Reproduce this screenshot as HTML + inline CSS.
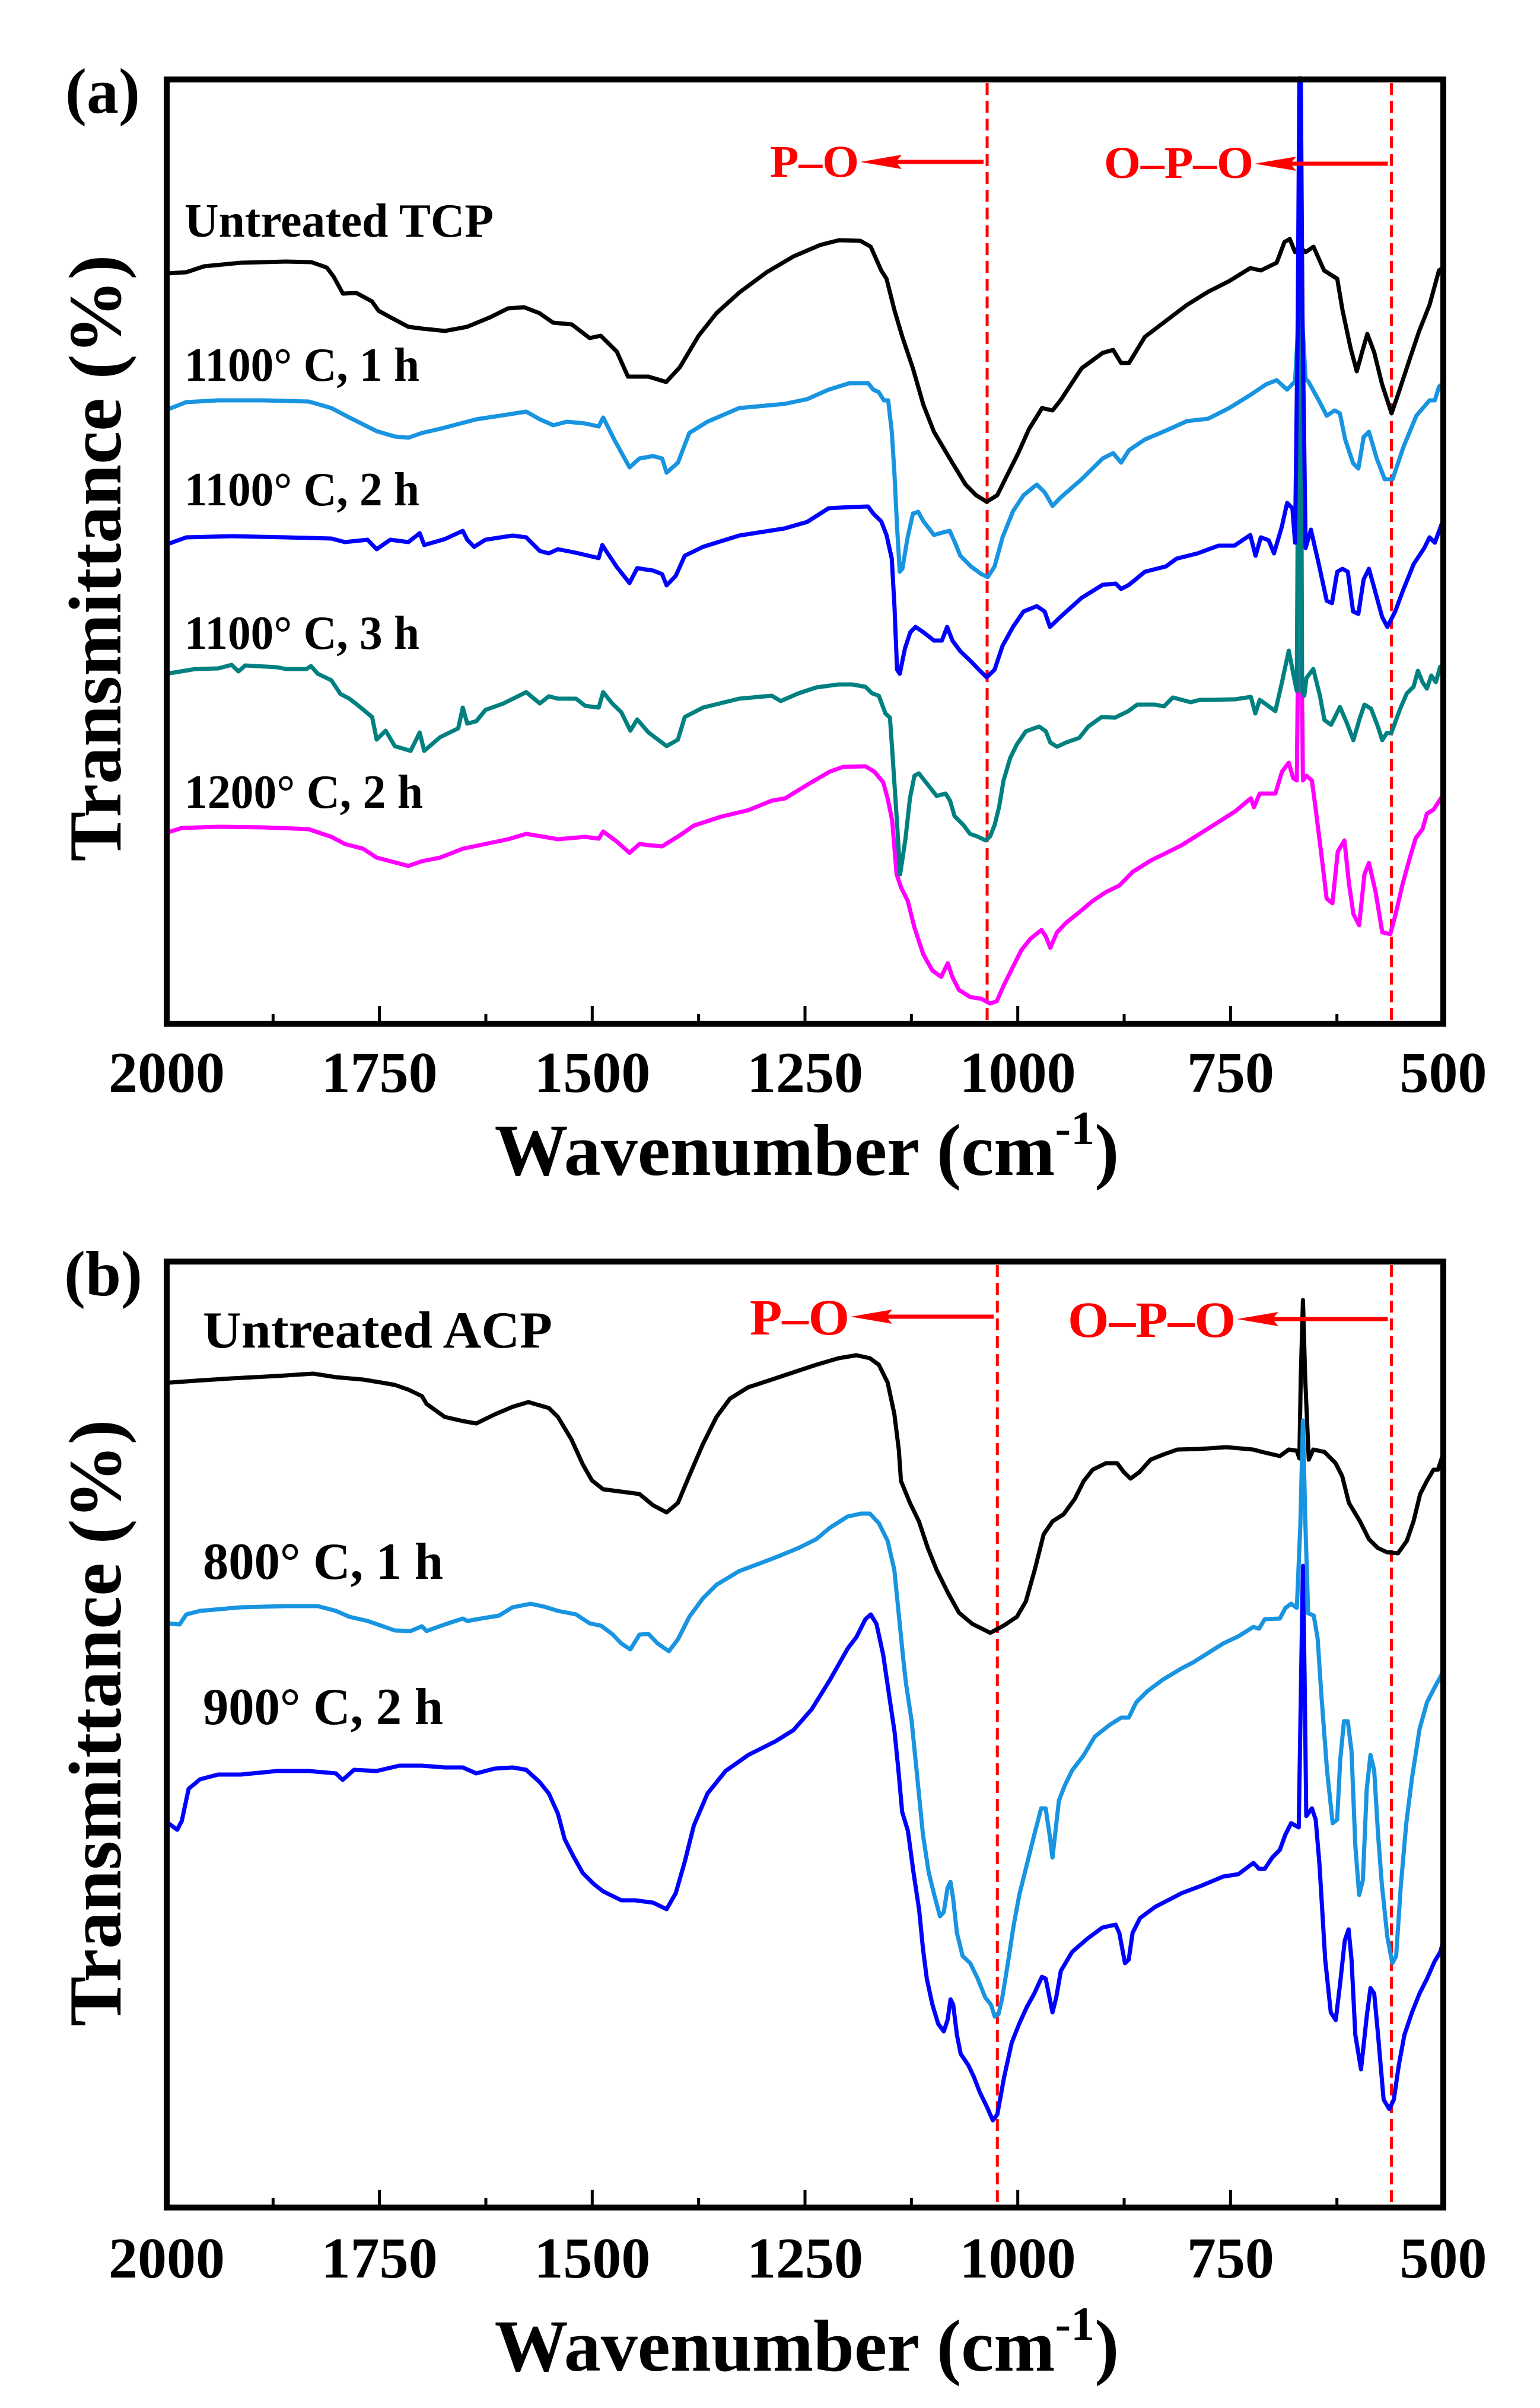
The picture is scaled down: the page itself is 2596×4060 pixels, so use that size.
<!DOCTYPE html>
<html><head><meta charset="utf-8"><style>
html,body{margin:0;padding:0;background:#fff;}
svg{display:block;}
text{font-family:"Liberation Serif","Times New Roman",serif;font-weight:bold;}
</style></head><body>
<svg id="fig" xmlns="http://www.w3.org/2000/svg" width="2596" height="4060" viewBox="0 0 2596 4060">
<rect x="0" y="0" width="2596" height="4060" fill="#fff"/>
<g id="panelA"></g>
<g id="panelB"></g>
<text x="110" y="190" font-size="108">(a)</text>
<text x="108" y="2184" font-size="108">(b)</text>
<text transform="translate(203,941) rotate(-90)" text-anchor="middle" font-size="126">Transmittance (%)</text>
<text transform="translate(203,2905) rotate(-90)" text-anchor="middle" font-size="126">Transmittance (%)</text>
<text x="1360" y="1981" text-anchor="middle" font-size="124">Wavenumber (cm<tspan dy="-52" font-size="80">-1</tspan><tspan dy="52">)</tspan></text>
<text x="1360" y="3997" text-anchor="middle" font-size="124">Wavenumber (cm<tspan dy="-52" font-size="80">-1</tspan><tspan dy="52">)</tspan></text>
<text x="311" y="399" font-size="80" textLength="521" lengthAdjust="spacingAndGlyphs">Untreated TCP</text>
<text x="311" y="642" font-size="80" textLength="396" lengthAdjust="spacingAndGlyphs">1100° C, 1 h</text>
<text x="311" y="852" font-size="80" textLength="396" lengthAdjust="spacingAndGlyphs">1100° C, 2 h</text>
<text x="311" y="1094" font-size="80" textLength="396" lengthAdjust="spacingAndGlyphs">1100° C, 3 h</text>
<text x="311" y="1362" font-size="80" textLength="402" lengthAdjust="spacingAndGlyphs">1200° C, 2 h</text>
<text x="342" y="2272" font-size="88" textLength="589" lengthAdjust="spacingAndGlyphs">Untreated ACP</text>
<text x="342" y="2662" font-size="88" textLength="405" lengthAdjust="spacingAndGlyphs">800° C, 1 h</text>
<text x="342" y="2907" font-size="88" textLength="405" lengthAdjust="spacingAndGlyphs">900° C, 2 h</text>
<text x="1298" y="298" font-size="76" fill="#ff0000" textLength="150" lengthAdjust="spacingAndGlyphs">P–O</text>
<text x="1861" y="300" font-size="76" fill="#ff0000" textLength="252" lengthAdjust="spacingAndGlyphs">O–P–O</text>
<text x="1264" y="2250" font-size="86" fill="#ff0000" textLength="168" lengthAdjust="spacingAndGlyphs">P–O</text>
<text x="1800" y="2254" font-size="86" fill="#ff0000" textLength="283" lengthAdjust="spacingAndGlyphs">O–P–O</text>
</svg>
<script>
const xTickLabels = [2000, 1750, 1500, 1250, 1000, 750, 500];
const xMinorTicks = [1875, 1625, 1375, 1125, 875, 625];
const markersA = [1036, 561];
const markersB = [1024, 561];

const tcpUntreated = [[2000,126.5],[1977,126.7],[1956,127.7],[1913,128.3],[1860,128.5],[1830,128.4],[1812,127.5],[1804,126.0],[1793,123.1],[1777,123.2],[1759,121.8],[1751,120.2],[1737,119.1],[1716,117.5],[1700,117.2],[1673,116.8],[1647,117.5],[1620,119.1],[1599,120.6],[1580,120.8],[1562,119.8],[1546,118.2],[1524,117.9],[1503,115.6],[1490,116.0],[1471,113.3],[1458,109.1],[1434,109.1],[1413,108.2],[1397,110.7],[1375,116.0],[1354,119.8],[1327,123.3],[1295,126.7],[1263,129.4],[1232,131.3],[1210,132.1],[1185,132.0],[1172.8,131.0],[1160.4,127.0],[1154.2,125.6],[1144.9,120.3],[1135.6,115.8],[1123.2,110.5],[1110.8,104.3],[1098.5,99.8],[1079.9,95.3],[1061.3,90.9],[1048.9,89.1],[1036.5,88.0],[1024.1,89.1],[1011.7,92.7],[999.4,96.2],[987.0,100.2],[971.5,103.8],[959.1,103.4],[949.8,105.1],[925.0,110.5],[900.2,113.1],[887.9,113.6],[878.6,111.4],[869.3,111.4],[850.7,115.8],[825.9,118.5],[801.1,121.2],[776.4,123.4],[751.6,125.2],[726.8,127.4],[714.4,127.0],[695.8,128.3],[686.6,131.8],[680.4,132.3],[674.2,130.1],[669.2,131.0],[661.8,130.1],[652.5,131.0],[640.1,127.0],[624.6,125.6],[618.4,120.3],[609.1,114.0],[601.7,110.0],[595.5,113.2],[589.3,116.3],[581.2,113.2],[571.9,107.8],[560.8,102.9],[553.4,106.0],[541.0,111.4],[528.6,116.7],[516.2,121.2],[505.1,127.0],[500,127.5]];

const tcp1100c1h = [[2000,103.5],[1977,104.8],[1939.6,105.1],[1886.4,105.1],[1833.2,104.9],[1806.5,103.8],[1785.3,102.2],[1753.3,99.9],[1732.0,99.0],[1716.0,98.8],[1700.1,99.6],[1678.8,100.3],[1657.5,101.1],[1636.2,101.9],[1604.2,102.6],[1577.6,103.2],[1561.6,101.9],[1545.7,100.9],[1529.7,101.5],[1508.4,101.2],[1492.4,100.7],[1487.1,102.2],[1473.8,98.4],[1456.2,93.8],[1444.5,95.3],[1428.5,95.7],[1417.9,95.3],[1412.6,92.9],[1399.3,94.6],[1385.9,99.6],[1364.6,101.5],[1327.4,103.8],[1274.1,104.5],[1247.5,105.3],[1222.3,106.9],[1197.6,108.0],[1175.9,108.0],[1169.7,106.9],[1163.5,106.5],[1157.3,105.1],[1152.3,105.1],[1148.0,99.8],[1144.9,92.7],[1141.8,83.8],[1138.7,76.2],[1135.6,76.7],[1129.4,82.0],[1123.2,86.0],[1117.0,86.3],[1110.8,84.7],[1098.5,82.4],[1086.1,82.9],[1079.9,83.1],[1073.7,81.1],[1067.5,78.9],[1055.1,77.1],[1042.7,75.8],[1035.3,75.3],[1027.2,77.1],[1017.9,82.0],[1005.6,86.4],[993.2,89.1],[977.7,90.9],[968.4,89.6],[959.1,87.3],[949.8,88.7],[925.0,91.8],[900.2,95.3],[887.9,96.2],[878.6,94.6],[869.3,96.7],[850.7,98.5],[825.9,100.0],[801.1,101.6],[776.4,102.0],[751.6,103.8],[726.8,106.0],[708.2,107.8],[695.8,108.5],[683.5,106.9],[674.2,108.3],[669.8,119.4],[668.0,128.3],[666.1,119.4],[661.8,108.7],[658.7,108.3],[646.3,105.1],[637.0,102.5],[627.7,103.4],[621.5,102.9],[615.3,98.5],[606.0,94.5],[599.8,93.6],[593.6,98.9],[587.4,99.8],[578.2,95.3],[568.9,91.8],[559.6,91.8],[547.2,97.1],[531.7,102.5],[516.2,105.1],[510.0,105.1],[505.1,107.4],[500,108.0]];

const tcp1100c2h = [[2000,80.8],[1977,82.0],[1923.7,82.2],[1859.8,82.0],[1806.5,81.8],[1790.6,81.2],[1764.0,81.6],[1753.3,80.0],[1737.3,81.6],[1716.0,81.2],[1702.7,82.7],[1697.4,80.7],[1673.4,81.7],[1652.1,83.1],[1646.8,81.6],[1638.8,80.4],[1625.5,81.6],[1593.6,82.3],[1577.6,82.0],[1561.6,79.7],[1551.0,79.3],[1540.3,80.0],[1519.0,79.4],[1492.4,78.5],[1488.2,80.7],[1481.8,79.3],[1471.1,77.0],[1456.2,74.3],[1447.2,76.8],[1428.5,76.4],[1417.9,75.8],[1412.6,73.9],[1401.9,75.5],[1391.3,78.9],[1369.8,80.4],[1327.4,82.3],[1274.1,83.5],[1247.5,84.6],[1222.3,86.9],[1197.6,87.1],[1175.9,87.2],[1169.7,86.0],[1160.4,84.7],[1154.2,82.4],[1148.0,78.4],[1144.9,70.4],[1141.8,59.7],[1138.7,59.0],[1132.5,63.3],[1126.3,66.0],[1120.1,66.9],[1110.8,66.0],[1098.5,64.6],[1089.2,64.6],[1083.0,66.9],[1076.8,64.6],[1067.5,62.8],[1055.1,61.1],[1045.8,59.7],[1036.5,58.4],[1027.2,59.7],[1017.9,63.7],[1005.6,66.9],[993.2,69.5],[977.7,70.4],[968.4,69.5],[962.2,66.9],[949.8,68.6],[925.0,71.8],[900.2,74.0],[884.8,74.2],[878.6,73.3],[869.3,74.0],[850.7,76.2],[825.9,77.1],[813.5,78.4],[788.7,79.3],[764.0,80.6],[745.4,80.6],[726.8,82.4],[720.6,78.9],[714.4,82.0],[705.1,81.5],[698.9,79.3],[689.7,83.8],[683.5,87.8],[677.3,86.9],[674.2,81.1],[671.0,119.4],[669.2,159.4],[667.4,159.4],[665.5,119.4],[661.8,80.2],[655.6,83.3],[646.3,77.5],[637.0,71.3],[630.8,70.9],[624.6,76.2],[618.4,76.7],[612.2,76.2],[606.0,69.5],[599.8,69.1],[593.6,74.9],[587.4,76.7],[581.2,73.5],[571.9,68.6],[565.8,66.9],[556.5,69.5],[547.2,73.1],[534.8,77.5],[522.4,80.2],[516.2,82.0],[510.0,81.1],[500.8,84.7]];

const tcp1100c3h = [[2000,59.0],[1966.3,59.8],[1939.6,59.9],[1923.7,60.5],[1915.7,59.4],[1907.7,60.4],[1870.4,60.1],[1859.8,59.8],[1835.8,59.8],[1830.5,60.3],[1822.5,59.0],[1806.5,57.9],[1795.9,55.6],[1785.3,54.8],[1774.6,53.6],[1758.6,51.7],[1753.3,47.9],[1742.7,49.4],[1732.0,46.8],[1713.4,46.0],[1702.7,49.1],[1697.4,46.0],[1678.8,48.3],[1657.5,49.8],[1652.1,53.3],[1646.8,50.6],[1636.2,51.0],[1625.5,52.9],[1604.2,54.0],[1577.6,55.9],[1561.6,54.0],[1551.0,55.2],[1540.3,54.8],[1519.0,54.8],[1508.4,53.6],[1492.4,53.3],[1487.1,55.9],[1476.5,54.0],[1465.8,52.5],[1455.2,49.4],[1447.2,51.3],[1433.9,49.1],[1412.6,46.8],[1399.3,47.9],[1391.3,51.7],[1369.8,53.3],[1327.4,54.8],[1289.0,55.3],[1278.5,54.4],[1257.6,55.7],[1236.6,56.7],[1210.5,57.2],[1194.8,57.2],[1179.0,56.8],[1171.2,55.7],[1163.3,55.3],[1155.5,52.3],[1150.2,51.6],[1147.6,46.3],[1142.4,35.0],[1138.2,25.2],[1131.9,31.2],[1126.7,38.0],[1121.4,41.8],[1116.2,42.2],[1105.7,40.3],[1095.3,38.4],[1084.8,38.8],[1079.6,37.6],[1074.3,35.0],[1063.9,33.5],[1056.0,32.0],[1048.1,31.6],[1037.7,30.9],[1032.4,31.6],[1027.2,33.5],[1022.0,36.5],[1016.7,41.0],[1008.9,44.8],[1001.0,47.1],[990.5,49.3],[974.8,50.1],[967.0,49.3],[961.8,47.4],[953.9,46.7],[943.4,47.4],[927.7,48.2],[917.2,50.1],[901.5,51.7],[885.8,51.6],[870.1,52.7],[859.6,53.8],[838.7,53.8],[828.2,53.5],[817.8,55.0],[796.8,54.2],[786.3,54.6],[770.6,54.6],[744.5,54.7],[726.1,55.1],[720.9,52.3],[715.7,54.6],[707.8,53.8],[697.3,52.7],[689.5,57.6],[681.6,62.9],[675.3,58.3],[672.2,56.1],[670.5,100.0],[668.5,142.5],[667.0,100.0],[665.9,56.1],[663.3,55.3],[660.8,58.3],[652.8,59.8],[645.0,55.3],[639.7,51.2],[631.9,50.4],[621.4,53.4],[613.6,50.8],[605.7,47.8],[597.9,51.6],[592.6,53.8],[584.8,53.1],[576.9,50.1],[571.7,47.8],[566.4,49.0],[561.2,49.0],[550.7,53.1],[542.9,55.7],[535.0,56.8],[529.8,59.5],[524.5,57.6],[519.3,56.5],[514.1,58.7],[508.8,57.6],[503.6,60.2],[501.0,59.8]];

const tcp1200c2h = [[2000,32.2],[1982.2,33.0],[1939.6,33.2],[1886.4,33.1],[1833.2,32.8],[1806.5,31.5],[1790.6,30.3],[1769.3,29.5],[1753.3,28.0],[1732.0,27.2],[1716.0,26.6],[1700.1,27.4],[1678.8,28.0],[1652.1,29.5],[1625.5,30.3],[1598.9,31.1],[1577.6,32.0],[1556.3,31.5],[1540.3,31.1],[1508.4,31.5],[1492.4,31.2],[1487.1,32.4],[1471.1,30.7],[1456.2,28.8],[1444.5,30.3],[1433.9,30.1],[1417.9,29.9],[1396.6,31.8],[1380.6,33.4],[1348.7,34.9],[1316.7,36.0],[1289.0,37.6],[1273.3,38.0],[1247.1,40.3],[1220.9,42.5],[1205.2,43.3],[1179.0,43.4],[1168.6,42.5],[1158.1,40.7],[1152.9,38.0],[1147.6,34.3],[1142.4,25.2],[1137.2,23.0],[1129.3,20.7],[1121.4,16.2],[1111.0,11.7],[1100.5,9.0],[1090.0,7.9],[1082.2,10.2],[1076.9,7.9],[1069.1,5.7],[1056.0,4.5],[1042.9,4.2],[1032.4,3.4],[1024.6,3.8],[1016.7,6.4],[1006.3,9.4],[995.8,12.4],[985.3,14.3],[972.2,15.8],[967.0,14.7],[961.8,12.8],[953.9,15.4],[943.4,17.0],[927.7,18.8],[912.0,20.7],[896.3,22.2],[880.6,23.3],[864.9,25.6],[843.9,27.5],[828.2,28.6],[807.3,30.1],[786.3,32.0],[765.4,33.9],[744.5,35.8],[726.1,38.0],[722.5,36.5],[715.7,38.8],[697.3,38.8],[689.5,42.5],[681.6,44.0],[676.4,41.4],[672.2,41.0],[670.0,70.0],[668.5,90.7],[667.0,70.0],[664.9,41.0],[660.7,41.8],[654.4,41.0],[650.2,36.5],[642.4,27.5],[637.1,21.1],[630.3,20.3],[624.0,29.0],[616.2,30.9],[610.9,23.7],[605.7,18.5],[598.9,16.6],[592.6,25.2],[587.4,27.1],[579.5,22.2],[571.7,15.4],[562.3,15.1],[556.0,18.5],[548.1,23.4],[540.3,27.5],[532.4,31.3],[524.5,32.8],[519.3,35.4],[511.5,36.1],[501.0,38.4]];

const acpUntreated = [[1995.5,139.1],[1966.3,139.4],[1923.7,139.8],[1870.4,140.2],[1827.8,140.6],[1801.2,140.0],[1769.3,139.6],[1748.0,139.1],[1732.0,138.7],[1716.0,137.9],[1700.1,136.8],[1694.7,135.5],[1673.4,133.3],[1652.1,132.6],[1636.2,132.2],[1614.9,133.7],[1593.6,135.0],[1575.0,135.8],[1551.0,134.8],[1540.3,133.3],[1524.4,129.5],[1511.1,125.3],[1500.4,122.6],[1487.1,121.1],[1465.8,120.7],[1444.5,120.3],[1428.5,118.4],[1412.6,117.2],[1399.3,118.8],[1385.9,123.4],[1370.0,128.7],[1354.0,133.3],[1338.0,136.4],[1316.7,138.3],[1284.8,139.8],[1268.1,140.6],[1236.6,142.1],[1210.5,143.2],[1189.5,143.7],[1173.8,143.2],[1163.3,142.1],[1152.9,139.1],[1145.0,133.8],[1139.8,127.8],[1137.2,122.5],[1126.7,118.8],[1116.2,115.7],[1105.7,111.2],[1095.3,107.5],[1082.2,103.7],[1069.1,100.3],[1053.4,98.4],[1032.4,96.9],[1016.7,98.1],[1001.0,99.6],[990.5,102.2],[980.1,107.5],[969.6,113.5],[959.1,115.7],[946.0,116.9],[932.9,119.5],[922.5,122.5],[912.0,124.4],[896.3,125.5],[883.2,125.5],[875.4,124.0],[867.5,122.9],[857.0,124.0],[843.9,126.1],[828.2,127.0],[812.5,127.8],[786.3,127.9],[754.9,128.2],[723.5,127.8],[713.0,127.4],[692.1,126.7],[681.6,127.8],[672.2,127.6],[669.1,126.3],[667.5,139.8],[664.9,153.0],[662.3,139.8],[658.1,126.1],[652.8,127.8],[639.7,127.4],[626.6,125.5],[618.8,123.3],[610.9,118.8],[597.9,115.7],[587.4,112.7],[576.9,111.2],[566.4,110.5],[553.3,110.3],[542.9,112.4],[535.0,115.7],[527.2,120.3],[519.3,122.5],[511.5,124.4],[506.2,124.4],[501.0,126.7]];

const acp800c1h = [[1998.2,98.5],[1984.9,98.3],[1976.9,100.0],[1960.9,100.6],[1913.0,101.2],[1859.8,101.4],[1822.5,101.4],[1801.2,100.6],[1785.3,99.6],[1764.0,98.9],[1748.0,98.1],[1732.0,97.3],[1713.4,97.2],[1700.1,98.0],[1694.7,97.2],[1673.4,98.3],[1652.1,99.3],[1646.8,98.9],[1630.8,99.3],[1609.6,99.8],[1593.6,101.2],[1572.3,101.8],[1556.3,101.3],[1540.3,100.6],[1519.0,100.0],[1503.1,98.5],[1489.7,98.1],[1476.5,96.7],[1465.8,95.1],[1455.2,94.1],[1444.5,96.6],[1433.9,96.7],[1423.2,95.1],[1409.9,93.8],[1399.3,95.8],[1385.9,99.6],[1370.0,102.7],[1354.0,105.0],[1327.4,107.3],[1284.8,109.6],[1257.6,111.2],[1236.6,112.7],[1220.9,114.6],[1200.0,116.5],[1184.3,117.0],[1173.8,117.0],[1163.3,115.4],[1152.9,112.4],[1145.0,107.5],[1139.8,100.0],[1134.5,92.4],[1131.4,88.4],[1124.7,82.0],[1118.0,72.4],[1111.4,62.9],[1104.7,56.5],[1098.1,52.7],[1091.4,49.1],[1087.0,49.8],[1082.5,53.9],[1079.0,54.9],[1075.9,52.0],[1071.5,46.3],[1064.8,42.4],[1055.9,41.2],[1047.1,38.6],[1038.2,35.4],[1031.5,34.2],[1027.1,32.2],[1022.6,32.6],[1018.2,35.4],[1011.6,41.2],[1004.9,47.5],[998.2,52.7],[989.4,57.8],[980.5,62.9],[972.5,67.3],[967.2,67.3],[962.7,62.9],[959.2,59.0],[956.1,62.9],[951.7,68.6],[945.0,71.1],[936.1,73.7],[922.8,76.2],[909.5,79.4],[891.8,81.4],[878.4,82.6],[869.6,82.6],[860.7,85.2],[847.4,87.1],[829.6,89.0],[807.5,90.9],[794.1,91.9],[776.4,93.5],[758.7,95.1],[740.9,96.3],[723.1,97.9],[716.5,97.6],[709.8,99.2],[692.1,99.3],[685.5,101.1],[678.8,101.8],[672.1,101.1],[668.0,115.0],[665.0,132.7],[662.0,115.0],[658.8,100.2],[652.2,99.8],[647.7,96.0],[643.3,86.5],[636.6,73.7],[630.0,64.8],[624.7,65.4],[621.1,75.6],[616.7,82.0],[612.2,82.0],[607.8,76.9],[603.4,61.0],[598.9,52.7],[594.5,55.2],[590.0,70.5],[585.6,76.3],[581.2,73.7],[576.7,62.9],[572.3,54.6],[565.7,45.6],[559.9,41.2],[555.4,42.4],[550.1,53.9],[543.5,64.8],[536.8,72.4],[527.9,80.7],[519.1,85.2],[510.2,87.7],[501.3,90.0],[500,91.6]];

const acp900c2h = [[1998.2,64.8],[1987.6,63.7],[1982.2,65.2],[1974.2,70.6],[1960.9,72.2],[1939.6,73.0],[1913.0,73.0],[1870.4,73.6],[1833.2,73.6],[1801.2,73.2],[1793.2,72.1],[1779.9,73.8],[1753.3,73.6],[1726.7,74.5],[1700.1,74.5],[1673.4,74.2],[1652.1,74.2],[1636.2,73.2],[1614.9,74.0],[1593.6,74.2],[1577.6,73.8],[1561.6,71.7],[1551.0,69.8],[1540.3,66.4],[1532.4,62.1],[1521.7,59.1],[1511.1,56.4],[1497.8,54.5],[1487.1,53.3],[1465.8,51.8],[1449.8,51.8],[1428.5,51.4],[1412.6,50.3],[1401.9,53.0],[1391.3,58.3],[1380.6,64.4],[1364.6,69.8],[1343.3,73.6],[1316.7,76.3],[1284.8,78.6],[1263.5,80.5],[1242.2,84.0],[1220.9,88.9],[1199.6,94.3],[1189.5,96.2],[1179.0,99.2],[1172.8,100.0],[1166.0,98.4],[1158.1,93.2],[1151.3,86.5],[1144.7,80.1],[1140.2,73.7],[1135.8,66.7],[1129.1,63.5],[1122.5,56.5],[1115.8,50.1],[1111.4,43.7],[1106.9,38.6],[1100.3,34.2],[1093.6,31.0],[1087.0,29.7],[1082.5,31.6],[1079.0,35.1],[1075.9,34.2],[1071.5,29.1],[1067.0,25.9],[1058.1,24.0],[1051.5,22.0],[1044.8,19.5],[1036.0,16.9],[1029.3,14.7],[1024.0,15.7],[1016.0,22.0],[1007.1,27.8],[998.2,31.0],[989.4,33.8],[980.5,36.1],[971.6,38.9],[967.2,38.6],[962.7,35.4],[959.2,32.9],[954.8,35.4],[949.4,39.9],[936.1,43.1],[918.4,45.3],[900.6,47.2],[885.1,47.7],[880.7,46.3],[874.0,41.2],[869.6,41.8],[865.1,46.3],[856.3,48.8],[838.5,50.7],[820.8,52.0],[807.5,53.0],[785.3,54.2],[758.7,55.8],[740.9,56.2],[723.1,58.1],[716.5,57.1],[709.8,57.1],[701.0,59.0],[692.1,60.3],[685.5,62.9],[678.8,64.8],[669.9,64.1],[667.0,90.0],[665.0,108.2],[663.0,90.0],[661.0,66.0],[654.4,67.3],[649.9,65.4],[645.5,57.8],[638.8,41.8],[632.2,32.9],[626.4,31.6],[621.1,38.0],[615.8,45.0],[611.3,46.9],[607.8,41.8],[603.4,29.1],[596.7,23.3],[590.0,32.2],[585.6,37.0],[581.2,36.1],[576.7,29.1],[570.1,18.2],[563.4,16.6],[558.1,18.2],[552.3,24.0],[545.7,29.1],[536.8,32.9],[527.9,36.1],[519.1,38.6],[510.2,41.5],[503.5,43.1],[500,45.0]];

const NS = 'http://www.w3.org/2000/svg';
function mk(tag, attrs, parent) {
  const e = document.createElementNS(NS, tag);
  for (const k in attrs) e.setAttribute(k, attrs[k]);
  parent.appendChild(e);
  return e;
}
const panels = {
  a: {g: document.getElementById('panelA'), x0: 281, x1: 2433, yt: 134, yb: 1726, vmax: 159.2, tickY: 1841},
  b: {g: document.getElementById('panelB'), x0: 281, x1: 2433, yt: 2127, yb: 3722, vmax: 159.5, tickY: 3840}
};
function xScale(p, wn) { return p.x0 + (2000 - wn) / 1500 * (p.x1 - p.x0); }
function yScale(p, v) { return p.yb - v / p.vmax * (p.yb - p.yt); }

function drawSeries(p, data, color, width, name) {
  const d = data.map((pt, i) => (i ? 'L' : 'M') + xScale(p, pt[0]).toFixed(1) + ' ' + yScale(p, pt[1]).toFixed(1)).join(' ');
  const path = mk('path', {d: d, fill: 'none', stroke: color, 'stroke-width': width, 'stroke-linejoin': 'round', 'stroke-linecap': 'round'}, p.g);
  
  
}
function drawAxes(p, suffix) {
  const frame = mk('rect', {x: p.x0, y: p.yt, width: p.x1 - p.x0, height: p.yb - p.yt, fill: 'none', stroke: '#000', 'stroke-width': 10}, p.g);
  
  
  xTickLabels.forEach(t => {
    const x = xScale(p, t);
    const tk = mk('line', {x1: x, x2: x, y1: p.yb, y2: p.yb - 30, stroke: '#000', 'stroke-width': 5}, p.g);
    
    
    const lb = mk('text', {x: x, y: p.tickY, 'text-anchor': 'middle', 'font-size': 98}, p.g);
    lb.textContent = t;
    
    
  });
  xMinorTicks.forEach(t => {
    const x = xScale(p, t);
    const tk = mk('line', {x1: x, x2: x, y1: p.yb, y2: p.yb - 16, stroke: '#000', 'stroke-width': 5}, p.g);
    
    
  });
}
function drawMarker(p, wn, suffix) {
  const x = xScale(p, wn);
  const ln = mk('line', {x1: x, x2: x, y1: p.yt + 6, y2: p.yb, stroke: '#ff0000', 'stroke-width': 5, 'stroke-dasharray': '20 10'}, p.g);
  
  
}
function drawArrow(p, wn, tipX, y, suffix) {
  const x = xScale(p, wn) - 6;
  const ln = mk('line', {x1: x, x2: tipX + 50, y1: y, y2: y, stroke: '#ff0000', 'stroke-width': 7}, p.g);
  
  
  const hd = mk('polygon', {points: tipX + ',' + y + ' ' + (tipX + 70) + ',' + (y - 12) + ' ' + (tipX + 60) + ',' + y + ' ' + (tipX + 70) + ',' + (y + 12), fill: '#ff0000'}, p.g);
  
  
}

const A = panels.a, B = panels.b;
markersA.forEach(w => drawMarker(A, w, 'a'));
markersB.forEach(w => drawMarker(B, w, 'b'));
drawSeries(A, tcpUntreated, '#000000', 7, 'series-untreated-tcp');
drawSeries(A, tcp1100c1h, '#1894e0', 7, 'series-1100c-1h');
drawSeries(A, tcp1200c2h, '#ff00ff', 7, 'series-1200c-2h');
drawSeries(A, tcp1100c3h, '#008080', 7, 'series-1100c-3h');
drawSeries(A, tcp1100c2h, '#0000ff', 7, 'series-1100c-2h');
drawSeries(B, acpUntreated, '#000000', 7, 'series-untreated-acp');
drawSeries(B, acp800c1h, '#1894e0', 7, 'series-800c-1h');
drawSeries(B, acp900c2h, '#0000ff', 7, 'series-900c-2h');
drawAxes(A, 'a');
drawAxes(B, 'b');
drawArrow(A, markersA[0], 1450, 273, 'p-o-a');
drawArrow(A, markersA[1], 2115, 276, 'o-p-o-a');
drawArrow(B, markersB[0], 1434, 2220, 'p-o-b');
drawArrow(B, markersB[1], 2085, 2224, 'o-p-o-b');
</script>
</body></html>
